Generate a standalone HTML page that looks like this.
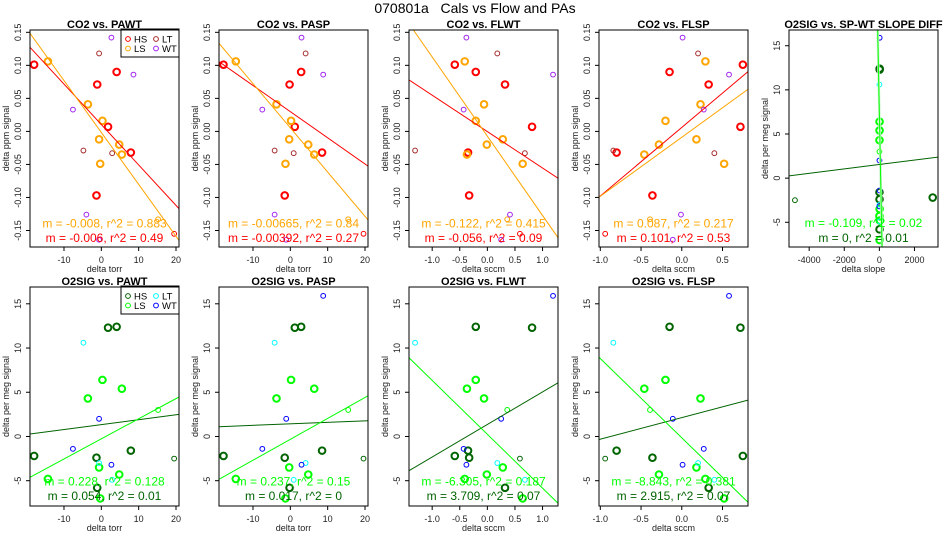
<!DOCTYPE html>
<html><head><meta charset="utf-8"><style>
html,body{margin:0;padding:0;background:#fff;width:950px;height:550px;overflow:hidden;}
svg{display:block;font-family:"Liberation Sans",Arial,sans-serif;}
</style></head>
<body>
<svg id="chart" width="950" height="550" viewBox="0 0 950 550" xmlns="http://www.w3.org/2000/svg">
<text x="475" y="13" text-anchor="middle" font-size="14" xml:space="preserve">070801a   Cals vs Flow and PAs</text>
</svg>
<script>
// ---- data (one entry per calibration point) ----
const groups   = ["HS","HS","HS","HS","HS","HS","HS","LS","LS","LS","LS","LS","LS","LS","LS","LT","LT","LT","WT","WT","WT","WT","WT"];
const sizeClass= [1,1,1,1,1,1,0,1,1,1,1,1,1,1,0,0,0,0,0,0,0,0,0];
const pawt     = [-18.0,-1.1,4.1,1.8,7.9,-1.3,19.5,-14.3,-3.6,0.3,-0.6,4.8,5.5,-0.3,15.2,-0.6,-4.8,2.9,2.7,8.6,-7.6,-4.0,-0.6];
const pasp     = [-17.9,-0.2,2.9,1.2,8.5,-1.5,19.6,-14.6,-3.7,0.2,-0.3,4.8,6.4,-1.3,15.5,4.1,-4.2,0.9,3.0,8.8,-7.5,-4.2,-1.1];
const flwt     = [-0.59,0.32,-0.21,0.81,-0.35,-0.33,0.59,-0.41,-0.06,-0.21,0.28,-0.01,-0.37,0.64,0.36,0.18,-1.31,0.68,-0.38,1.19,-0.43,0.41,0.25];
const flsp     = [0.75,0.33,-0.15,0.72,-0.80,-0.36,-0.94,0.29,0.23,-0.20,0.18,-0.28,-0.46,0.52,-0.39,0.20,-0.84,0.40,0.01,0.58,0.27,-0.01,-0.11];
const slopeDiff= [3040,10,15,20,5,10,-4810,20,5,10,15,5,10,12,5,10,5,15,0,15,10,0,5];
const co2      = [0.101,0.071,0.090,0.007,-0.032,-0.097,-0.155,0.106,0.041,0.016,-0.012,-0.020,-0.035,-0.049,-0.133,0.118,-0.029,-0.033,0.142,0.086,0.033,-0.126,-0.164];
const o2       = [-2.2,-5.8,12.4,12.3,-1.6,-2.4,-2.5,-4.8,4.3,6.4,-3.5,-4.3,5.4,-7.0,3.0,-3.0,10.6,-4.9,-3.2,15.9,-1.4,null,2.0];
// regression fits (slope m, intercept b) per panel
const co2FitHSm = [-0.00612,-0.00396,-0.0551,0.1039];
const co2FitHSb = [0.0104,0.0299,-0.0003,0.0060];
const co2FitLSm = [-0.00786,-0.00670,-0.120,0.0893];
const co2FitLSb = [-0.0016,0.0054,-0.0073,-0.0089];
const o2FitHSm = [0.0556,0.017,3.68,2.43,0.00025];
const o2FitHSb = [1.34,1.43,1.36,2.13,1.55];
const o2FitLSm = [0.2276,0.2366,-6.09,-8.96,-0.0987];
const o2FitLSb = [-0.27,-0.32,0.25,-0.15,7.30];
const co2TextLS = ["m = -0.008, r^2 = 0.883","m = -0.00665, r^2 = 0.84","m = -0.122, r^2 = 0.415","m = 0.087, r^2 = 0.217"];
const co2TextHS = ["m = -0.006, r^2 = 0.49","m = -0.00392, r^2 = 0.27","m = -0.056, r^2 = 0.09","m = 0.101, r^2 = 0.53"];
const o2TextLS = ["m = 0.228, r^2 = 0.128","m = 0.237, r^2 = 0.15","m = -6.305, r^2 = 0.187","m = -8.843, r^2 = 0.381","m = -0.109, r^2 = 0.02"];
const o2TextHS = ["m = 0.054, r^2 = 0.01","m = 0.017, r^2 = 0","m = 3.709, r^2 = 0.07","m = 2.915, r^2 = 0.07","m = 0, r^2 = 0.01"];
const paTicks = [-10,0,10,20];
const flwtTicks = [-1.0,-0.5,0.0,0.5,1.0];
const flspTicks = [-1.0,-0.5,0.0,0.5];
const slopeTicks = [-4000,-2000,0,2000];
const co2Ticks = [-0.15,-0.10,-0.05,0.00,0.05,0.10,0.15];
const o2Ticks = [-5,0,5,10,15];

const svg = document.getElementById('chart');
const NS = 'http://www.w3.org/2000/svg';
function mk(tag, attrs, parent){ const e=document.createElementNS(NS,tag); for(const k in attrs) e.setAttribute(k,attrs[k]); (parent||svg).appendChild(e); return e; }

const co2Col = {HS:'#ff0000',LS:'#ffa500',LT:'#a52a2a',WT:'#a020f0'};
const o2Col  = {HS:'#006400',LS:'#00ff00',LT:'#00ffff',WT:'#0000ff'};
const lefts = [30,219,409,599,789];
const W = 149;
const xSets = [
  {vals:pawt, dom:[-19.1,20.8], ticks:paTicks, fmt:v=>String(v), lab:'delta torr', name:'PAWT'},
  {vals:pasp, dom:[-19.1,20.8], ticks:paTicks, fmt:v=>String(v), lab:'delta torr', name:'PASP'},
  {vals:flwt, dom:[-1.42,1.28], ticks:flwtTicks, fmt:v=>v.toFixed(1), lab:'delta sccm', name:'FLWT'},
  {vals:flsp, dom:[-1.016,0.813], ticks:flspTicks, fmt:v=>v.toFixed(1), lab:'delta sccm', name:'FLSP'},
  {vals:slopeDiff, dom:[-5149,3341], ticks:slopeTicks, fmt:v=>String(v), lab:'delta slope', name:'SP-WT SLOPE DIFF'}
];
let clipId=0;
function panel(opts){
  const {left, top, bottom, xs, yvals, ydom, yticks, yfmt, ylab, title, colors, fits, texts, legend, fitExtra} = opts;
  const right = left+W;
  const g = mk('g',{});
  
  
  const sx = v => left + (v-xs.dom[0])/(xs.dom[1]-xs.dom[0])*W;
  const sy = v => bottom - (v-ydom[0])/(ydom[1]-ydom[0])*(bottom-top);
  const cid='clip'+(clipId++);
  const cp = mk('clipPath',{id:cid},g); mk('rect',{x:left,y:top,width:W,height:bottom-top},cp);
  const t = mk('text',{x:left+W/2,y:top-2,'text-anchor':'middle','font-size':11,'font-weight':'bold'},g);
  t.textContent = title;
  
  
  xs.ticks.forEach(v=>{
    const x=sx(v);
    mk('line',{x1:x,x2:x,y1:bottom,y2:bottom+4,stroke:'#000','stroke-width':1},g);
    const tl=mk('text',{x:x,y:bottom+16,'text-anchor':'middle','font-size':9,fill:'#222'},g);
    tl.textContent=xs.fmt(v);
    
    
  });
  const xl=mk('text',{x:left+W/2,y:bottom+25,'text-anchor':'middle','font-size':9,fill:'#222'},g);
  xl.textContent=xs.lab;
  
  
  yticks.forEach(v=>{
    const y=sy(v);
    mk('line',{x1:left-4,x2:left,y1:y,y2:y,stroke:'#000','stroke-width':1},g);
    const tl=mk('text',{x:left-9,y:y,'text-anchor':'middle','font-size':9,fill:'#222',transform:`rotate(-90 ${left-9} ${y})`},g);
    tl.textContent=yfmt(v);
    
    
  });
  const yl=mk('text',{x:left-21,y:(top+bottom)/2,'text-anchor':'middle','font-size':9,fill:'#222',transform:`rotate(-90 ${left-21} ${(top+bottom)/2})`},g);
  yl.textContent=ylab;
  
  
  const pg = mk('g',{'clip-path':`url(#${cid})`},g);
  for(let i=0;i<groups.length;i++){
    const yv=yvals[i]; if(yv===null||yv===undefined) continue;
    const thick=sizeClass[i]===1;
    const c=mk('circle',{cx:sx(xs.vals[i]),cy:sy(yv),r:thick?3.3:2.4,fill:'none',stroke:colors[groups[i]],'stroke-width':thick?2:1},pg);
    
    
  }
  const drawFit=(m,b,col,nm,w)=>{
    let x0=xs.dom[0],x1=xs.dom[1];
    // trim line segment to the y-range of the panel
    if(m!==0){
      const xa=(ydom[0]-b)/m, xb=(ydom[1]-b)/m;
      const lo=Math.min(xa,xb), hi=Math.max(xa,xb);
      x0=Math.max(x0,lo); x1=Math.min(x1,hi);
    }
    if(x1<=x0) return;
    const l=mk('line',{x1:sx(x0),y1:sy(b+m*x0),x2:sx(x1),y2:sy(b+m*x1),stroke:col,'stroke-width':w||1},pg);
    
    
  };
  if(fitExtra) drawFit(fits.LS[0],fits.LS[1],'#c8f5c8','fit-band-ls',2.5);
  drawFit(fits.HS[0],fits.HS[1],colors.HS,'fit-line-hs');
  drawFit(fits.LS[0],fits.LS[1],colors.LS,'fit-line-ls');
  const a1=mk('text',{x:left+W/2,y:opts.ty1,'text-anchor':'middle','font-size':12,fill:colors.LS},g);
  a1.textContent=texts[0];
  
  
  const a2=mk('text',{x:left+W/2,y:opts.ty2,'text-anchor':'middle','font-size':12,fill:colors.HS},g);
  a2.textContent=texts[1];
  
  
  if(legend){
    const lg=mk('g',{},g);
    
    
    mk('rect',{x:right-58,y:top-1,width:58,height:28,fill:'#fff',stroke:'#000','stroke-width':1},lg);
    const ents=[['HS',0,0],['LT',1,0],['LS',0,1],['WT',1,1]];
    ents.forEach(([k,cx,cy])=>{
      const ex=right-51+cx*28, ey=top+9+cy*9.5;
      const eg=mk('g',{},lg);
      
      
      mk('circle',{cx:ex,cy:ey,r:2.4,fill:'none',stroke:colors[k],'stroke-width':1},eg);
      const tx=mk('text',{x:ex+6,y:ey+3.5,'font-size':9.5,fill:'#000'},eg);
      tx.textContent=k;
    });
  }
  mk('rect',{x:left,y:top,width:W,height:bottom-top,fill:'none',stroke:'#000','stroke-width':1},g);
}
const co2Fmt=v=>v.toFixed(2), o2Fmt=v=>String(v);
for(let p=0;p<4;p++){
  panel({left:lefts[p],top:30,bottom:247,xs:xSets[p],yvals:co2,ydom:[-0.175,0.1535],yticks:co2Ticks,yfmt:co2Fmt,
    ylab:'delta ppm signal',title:'CO2 vs. '+xSets[p].name,colors:co2Col,
    fits:{HS:[co2FitHSm[p],co2FitHSb[p]],LS:[co2FitLSm[p],co2FitLSb[p]]},
    texts:[co2TextLS[p],co2TextHS[p]],legend:p===0,ty1:227.5,ty2:242});
  panel({left:lefts[p],top:287,bottom:506,xs:xSets[p],yvals:o2,ydom:[-7.86,16.9],yticks:o2Ticks,yfmt:o2Fmt,
    ylab:'delta per meg signal',title:'O2SIG vs. '+xSets[p].name,colors:o2Col,
    fits:{HS:[o2FitHSm[p],o2FitHSb[p]],LS:[o2FitLSm[p],o2FitLSb[p]]},
    texts:[o2TextLS[p],o2TextHS[p]],legend:p===0,ty1:485.5,ty2:500});
}
panel({left:lefts[4],top:30,bottom:247,xs:xSets[4],yvals:o2,ydom:[-7.8,16.78],yticks:o2Ticks,yfmt:o2Fmt,
  ylab:'delta per meg signal',title:'O2SIG vs. SP-WT SLOPE DIFF',colors:o2Col,
  fits:{HS:[o2FitHSm[4],o2FitHSb[4]],LS:[o2FitLSm[4],o2FitLSb[4]]},
  texts:[o2TextLS[4],o2TextHS[4]],legend:false,fitExtra:true,ty1:227,ty2:242});
</script>
</body></html>
